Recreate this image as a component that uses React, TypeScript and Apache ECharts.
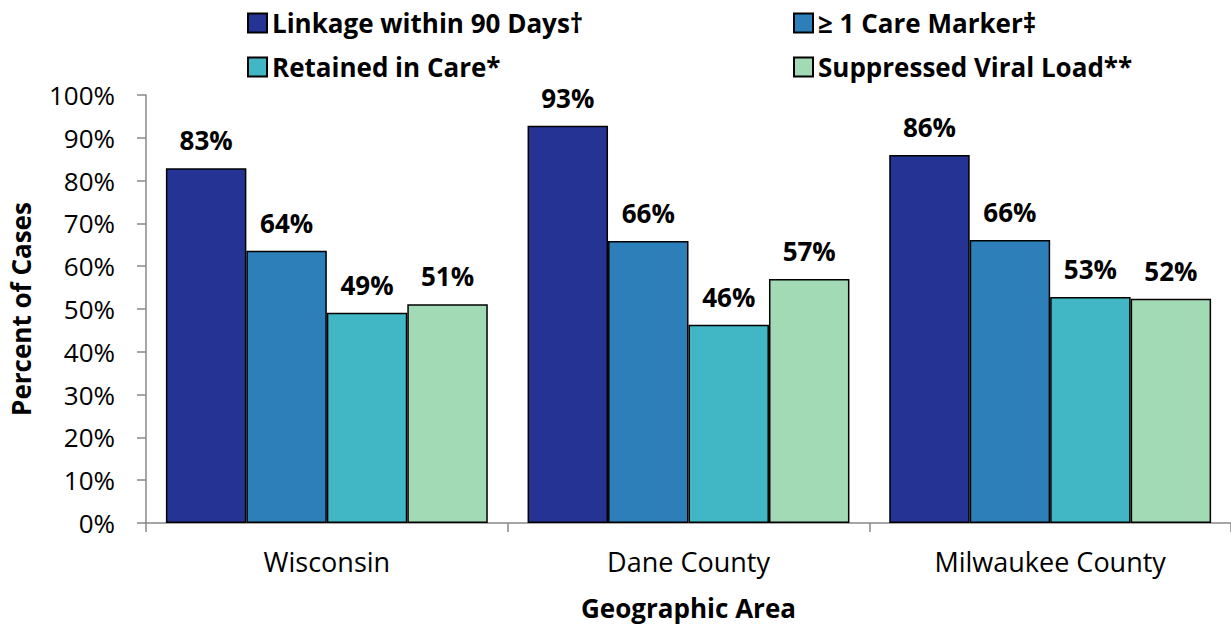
import React, { useEffect, useRef } from "react";
import * as echarts from "echarts";

const categories = ["Wisconsin", "Dane County", "Milwaukee County"];
const seriesNames = ["Linkage within 90 Days†", "≥ 1 Care Marker‡", "Retained in Care*", "Suppressed Viral Load**"];
const linkage = [82.9, 92.8, 86.0];
const careMarker = [63.6, 65.9, 66.1];
const retained = [49.1, 46.3, 52.8];
const suppressed = [51.1, 57.0, 52.4];
const colors = ["#253494", "#2c7fb8", "#41b6c4", "#a1dab4"];
const yTicks = [0, 10, 20, 30, 40, 50, 60, 70, 80, 90, 100];

const FONT = "'Open Sans', sans-serif";

export default function App() {
  const ref = useRef<HTMLDivElement>(null);
  useEffect(() => {
    if (!ref.current) return;
    const chart = echarts.init(ref.current, undefined, { renderer: "svg" });
    const values = [linkage, careMarker, retained, suppressed];
    const legendText = { fontFamily: FONT, fontWeight: "bold" as const, fontSize: 26, color: "#000" };
    chart.setOption({
      animation: false,
      textStyle: { fontFamily: FONT },
      legend: [
        {
          data: [seriesNames[0], seriesNames[2]],
          orient: "vertical",
          left: 242,
          top: 5,
          itemWidth: 19,
          itemHeight: 19,
          itemGap: 18,
          icon: "rect",
          textStyle: legendText,
          selectedMode: false,
        },
        {
          data: [seriesNames[1], seriesNames[3]],
          orient: "vertical",
          left: 788,
          top: 5,
          itemWidth: 19,
          itemHeight: 19,
          itemGap: 18,
          icon: "rect",
          textStyle: legendText,
          selectedMode: false,
        },
      ],
      grid: { left: 146, top: 95, right: -3, bottom: 104, containLabel: false },
      xAxis: {
        type: "category",
        data: categories,
        name: "Geographic Area",
        nameLocation: "middle",
        nameGap: 72,
        nameTextStyle: { fontFamily: FONT, fontWeight: "bold", fontSize: 26, color: "#000" },
        axisLine: { lineStyle: { color: "#888", width: 1.5 } },
        axisTick: { show: true, length: 9, lineStyle: { color: "#888", width: 1.5 } },
        axisLabel: { fontFamily: FONT, fontSize: 27, color: "#000", margin: 25 },
      },
      yAxis: {
        type: "value",
        min: yTicks[0],
        max: yTicks[yTicks.length - 1],
        interval: 10,
        name: "Percent of Cases",
        nameLocation: "middle",
        nameGap: 112,
        nameRotate: 90,
        nameTextStyle: { fontFamily: FONT, fontWeight: "bold", fontSize: 26, color: "#000" },
        splitLine: { show: false },
        axisLine: { show: true, lineStyle: { color: "#888", width: 1.5 } },
        axisTick: { show: true, length: 9, lineStyle: { color: "#888", width: 1.5 } },
        axisLabel: { fontFamily: FONT, fontSize: 26, color: "#000", margin: 31, formatter: "{value}%" },
      },
      series: seriesNames.map((name, i) => ({
        name,
        type: "bar",
        data: values[i],
        barGap: "0%",
        barCategoryGap: "11%",
        itemStyle: { color: colors[i], borderColor: "#000", borderWidth: 1.5 },
        label: {
          show: true,
          position: "top",
          distance: 15,
          fontFamily: FONT,
          fontWeight: "bold",
          fontSize: 26,
          color: "#000",
          formatter: (p: any) => Math.round(p.value) + "%",
        },
      })),
    });
    return () => chart.dispose();
  }, []);
  return <div ref={ref} style={{ position: "fixed", left: 0, top: 0, width: 1231, height: 627, background: "#fff" }} />;
}
